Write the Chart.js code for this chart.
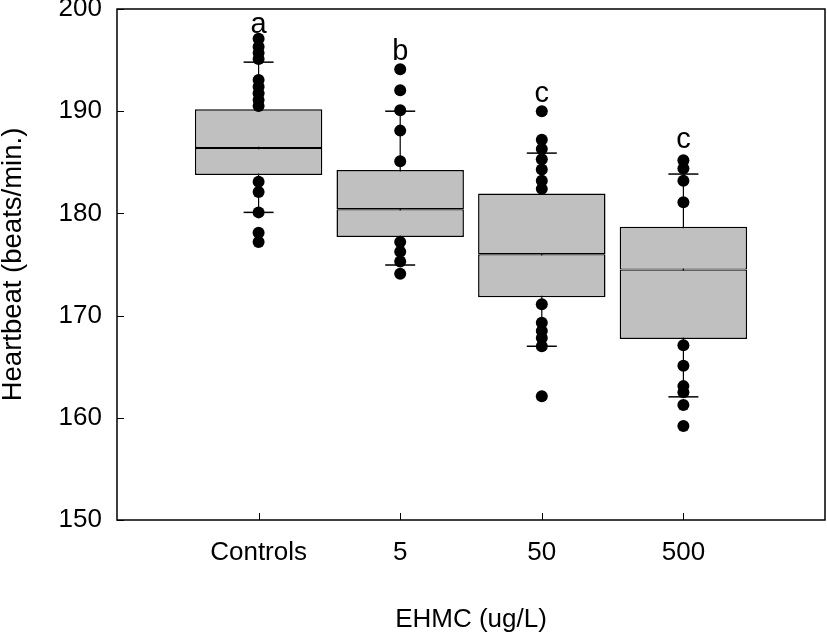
<!DOCTYPE html>
<html>
<head>
<meta charset="utf-8">
<script src="https://cdn.jsdelivr.net/npm/chart.js@4.4.1/dist/chart.umd.min.js"></script>
<style>
  html, body { margin: 0; padding: 0; background: #fff; overflow: hidden; }
  #wrap { width: 827px; height: 632px; position: relative; }
  canvas { display: block; }
</style>
</head>
<body>
<div id="wrap"><canvas id="box"></canvas></div>
<script>
/* ── data ─────────────────────────────────────────────── */
const GROUPS   = ['Controls', '5', '50', '500'];
const Q1       = [183.75, 177.7, 171.8, 167.7];
const MEDIAN   = [186.4, 180.4, 176.0, 174.5];
const Q3       = [190.2, 184.25, 181.95, 178.7];
const WHISK_LO = [180.1, 174.95, 167.0, 162.05];
const WHISK_HI = [194.8, 190.0, 185.9, 183.85];
const POINTS = [
  [197.1, 196.3, 195.7, 195.1, 193.05, 192.4, 191.75, 191.1, 190.5, 183.1, 182.1, 180.1, 178.1, 177.2],
  [194.1, 192.05, 190.1, 188.1, 185.1, 177.2, 176.25, 175.3, 174.1],
  [190.0, 187.2, 186.3, 185.3, 184.3, 183.2, 182.4, 171.1, 169.3, 168.5, 167.8, 167.0, 162.1],
  [185.2, 184.4, 183.2, 181.1, 167.1, 165.1, 163.1, 162.5, 161.25, 159.2],
];
const LETTERS  = ['a', 'b', 'c', 'c'];
const LETTER_Y = [197.7, 195.0, 190.9, 186.4];
const Y_TICKS  = [150, 160, 170, 180, 190, 200];

const FONT = "'Liberation Sans', Arial, sans-serif";
const BOX_FILL = '#c0c0c0';

// ── build datasets from the arrays ───────────────────────
const pos = GROUPS.map((g, i) => i + 1);
const dots = POINTS.flatMap((arr, i) => arr.map(v => ({ x: pos[i], y: v })));
const whiskers = pos.flatMap((x, i) => [{ x, y: WHISK_LO[i] }, { x, y: WHISK_HI[i] }, { x, y: null }]);
const caps = pos.flatMap((x, i) => [{ x, y: WHISK_LO[i] }, { x, y: WHISK_HI[i] }]);

// frame, inward ticks and group letters
const decor = {
  id: 'decor',
  afterDatasetsDraw(chart) {
    const { ctx, chartArea: a, scales: { x, y } } = chart;
    ctx.save();
    ctx.strokeStyle = '#000';
    ctx.lineWidth = 1.5;
    ctx.strokeRect(a.left, a.top, a.right - a.left, a.bottom - a.top);
    ctx.beginPath();
    Y_TICKS.forEach(v => {
      const py = Math.round(y.getPixelForValue(v)) + 0.5;
      ctx.moveTo(a.left, py); ctx.lineTo(a.left + 7, py);
    });
    pos.forEach(v => {
      const px = Math.round(x.getPixelForValue(v)) + 0.5;
      ctx.moveTo(px, a.bottom); ctx.lineTo(px, a.bottom - 7);
    });
    ctx.lineWidth = 1;
    ctx.stroke();
    ctx.fillStyle = '#000';
    ctx.font = '29px ' + FONT;
    ctx.textAlign = 'center';
    ctx.textBaseline = 'alphabetic';
    LETTERS.forEach((t, i) => ctx.fillText(t, x.getPixelForValue(pos[i]), y.getPixelForValue(LETTER_Y[i])));
    ctx.restore();
  },
};

new Chart(document.getElementById('box'), {
  type: 'bar',
  data: {
    datasets: [
      {
        type: 'scatter', label: 'points', order: 0,
        data: dots,
        pointRadius: 6, pointBackgroundColor: '#000', pointBorderWidth: 0,
      },
      {
        type: 'scatter', label: 'caps', order: 1,
        data: caps,
        pointStyle: 'line', pointRadius: 15, pointBorderColor: '#000', pointBorderWidth: 1.5,
      },
      {
        label: 'lower box', order: 2, grouped: false,
        data: pos.map((x, i) => ({ x, y: [Q1[i], MEDIAN[i]] })),
        backgroundColor: BOX_FILL, borderColor: '#000',
        borderWidth: { left: 1.5, right: 1.5, bottom: 1.5, top: 1.2 },
        borderSkipped: false, barPercentage: 0.9, categoryPercentage: 1,
      },
      {
        label: 'upper box', order: 2, grouped: false,
        data: pos.map((x, i) => ({ x, y: [MEDIAN[i], Q3[i]] })),
        backgroundColor: BOX_FILL, borderColor: '#000',
        borderWidth: { left: 1.5, right: 1.5, top: 1.5, bottom: 1.2 },
        borderSkipped: false, barPercentage: 0.9, categoryPercentage: 1,
      },
      {
        type: 'line', label: 'whiskers', order: 3,
        data: whiskers,
        borderColor: '#000', borderWidth: 1.2, pointRadius: 0, spanGaps: false,
      },
    ],
  },
  options: {
    responsive: true,
    maintainAspectRatio: false,
    animation: false,
    events: [],
    layout: { autoPadding: false, padding: { top: 9, right: 2, left: 0, bottom: 0 } },
    plugins: { legend: { display: false }, tooltip: { enabled: false } },
    scales: {
      x: {
        type: 'linear', min: 0, max: 5, offset: false,
        afterFit: s => { s.height = 112; s.paddingLeft = 0; s.paddingRight = 0; },
        afterBuildTicks: s => { s.ticks = [0, 1, 2, 3, 4, 5].map(v => ({ value: v })); },
        grid: { display: false, drawTicks: false },
        border: { display: false },
        ticks: {
          autoSkip: false, maxRotation: 0, padding: 17, color: '#000',
          font: { family: FONT, size: 26 },
          callback: v => GROUPS[v - 1] || '',
        },
        title: {
          display: true, text: 'EHMC (ug/L)', color: '#000',
          font: { family: FONT, size: 26, lineHeight: 1 },
          padding: { top: 0, bottom: -1 },
        },
      },
      y: {
        min: 150, max: 200,
        afterFit: s => { s.width = 117; s.paddingTop = 0; s.paddingBottom = 0; },
        afterBuildTicks: s => { s.ticks = Y_TICKS.map(v => ({ value: v })); },
        grid: { display: false, drawTicks: false },
        border: { display: false },
        ticks: { padding: 15, color: '#000', font: { family: FONT, size: 26 } },
        title: {
          display: true, text: 'Heartbeat (beats/min.)', color: '#000',
          font: { family: FONT, size: 27.5, lineHeight: 1 },
          padding: { top: 0, bottom: 0 },
        },
      },
    },
  },
  plugins: [decor],
});
</script>
</body>
</html>
